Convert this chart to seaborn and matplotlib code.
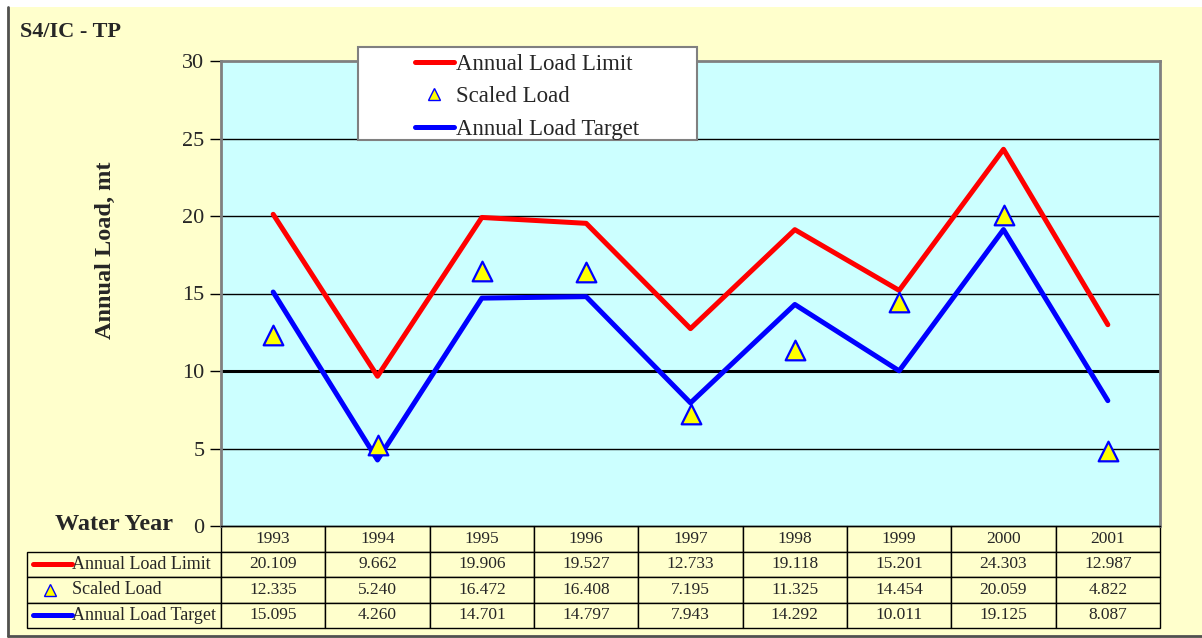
import matplotlib
matplotlib.use("Agg")
import matplotlib.pyplot as plt
import seaborn as sns
import pandas as pd
from matplotlib.patches import Rectangle
from matplotlib.lines import Line2D
from matplotlib.table import Table

# ---- data ----
years = ["1993", "1994", "1995", "1996", "1997", "1998", "1999", "2000", "2001"]
load_limit = [20.109, 9.662, 19.906, 19.527, 12.733, 19.118, 15.201, 24.303, 12.987]
scaled_load = [12.335, 5.240, 16.472, 16.408, 7.195, 11.325, 14.454, 20.059, 4.822]
load_target = [15.095, 4.260, 14.701, 14.797, 7.943, 14.292, 10.011, 19.125, 8.087]
series_names = ["Annual Load Limit", "Scaled Load", "Annual Load Target"]
y_ticks = [0, 5, 10, 15, 20, 25, 30]
title = "S4/IC - TP"
y_label = "Annual Load, mt"
x_label = "Water Year"

sns.set_theme(style="white")
plt.rcParams['font.family'] = ['Liberation Serif', 'DejaVu Serif']

W, H = 1202, 638
RED, BLUE, YEL = "#FF0000", "#0000FF", "#FFFF00"
BG, PLOT_BG = "#FFFFCC", "#CCFFFF"

def fx(px):
    return px / W

def fy(py):
    return 1 - py / H

fig = plt.figure(figsize=(W / 100, H / 100), dpi=100, facecolor="white")
fig.patches.append(Rectangle((fx(7), 0), 1 - fx(7), fy(7), transform=fig.transFigure,
                             facecolor=BG, edgecolor="none", zorder=-10))
fig.lines.append(Line2D([fx(8), fx(8)], [fy(636), fy(7)], transform=fig.transFigure,
                        color="#505050", lw=2))
fig.lines.append(Line2D([fx(8), 1], [fy(636), fy(636)], transform=fig.transFigure,
                        color="#505050", lw=2))

L, R, T, B = 221, 1160, 61, 526
ax = fig.add_axes([fx(L), fy(B), fx(R) - fx(L), fy(T) - fy(B)])
ax.set_facecolor(PLOT_BG)

df = pd.DataFrame({"x": range(len(years)), "limit": load_limit,
                   "scaled": scaled_load, "target": load_target})

ax.set_axisbelow(True)
for v in y_ticks[1:-1]:
    ax.axhline(v, color="black", lw=2.2 if v == 10 else 1.0, zorder=1)

sns.lineplot(data=df, x="x", y="limit", color=RED, lw=3.6, ax=ax, zorder=3, legend=False)
sns.lineplot(data=df, x="x", y="target", color=BLUE, lw=3.6, ax=ax, zorder=3, legend=False)
sns.scatterplot(data=df, x="x", y="scaled", marker="^", s=200, color=YEL,
                edgecolor=BLUE, linewidth=1.6, ax=ax, zorder=4, legend=False)

ax.set_xlim(-0.5, len(years) - 0.5)
ax.set_ylim(0, 30)
ax.set_xticks([])
ax.set_yticks(y_ticks)
ax.set_yticklabels([str(t) for t in y_ticks], fontsize=16)
ax.tick_params(axis="y", direction="out", length=8, width=1, color="black", pad=4, left=True)
ax.set_xlabel("")
ax.set_ylabel("")
for s in ["left", "top", "right"]:
    ax.spines[s].set_color("#808080")
    ax.spines[s].set_linewidth(2)
ax.spines["bottom"].set_color("black")
ax.spines["bottom"].set_linewidth(1)

# ---- table ----
axw = R - L
axh = B - T
row_h = 25.5
label_w = L - 27
col_w = axw / len(years)
tbl = Table(ax, bbox=[(27 - L) / axw, -4 * row_h / axh, (R - 27) / axw, 4 * row_h / axh])
c = tbl.add_cell(0, 0, width=label_w, height=row_h, text="", facecolor="none")
c.visible_edges = ""
for j, yr in enumerate(years):
    c = tbl.add_cell(0, j + 1, width=col_w, height=row_h, text=yr, loc="center", facecolor=BG)
    c.get_text().set_fontsize(12.5)
rows = [load_limit, scaled_load, load_target]
for i, vals in enumerate(rows):
    c = tbl.add_cell(i + 1, 0, width=label_w, height=row_h, text="", facecolor=BG)
    for j, v in enumerate(vals):
        c = tbl.add_cell(i + 1, j + 1, width=col_w, height=row_h, text=f"{v:.3f}",
                         loc="center", facecolor=BG)
        c.get_text().set_fontsize(12.5)
for cell in tbl.get_celld().values():
    cell.set_edgecolor("black")
    cell.set_linewidth(1)
tbl.auto_set_font_size(False)
ax.add_table(tbl)

# row labels with legend keys
row_centers = [B + row_h * 1.5, B + row_h * 2.5, B + row_h * 3.5]
for i, name in enumerate(series_names):
    yc = fy(row_centers[i])
    if i == 1:
        fig.lines.append(Line2D([fx(50)], [yc], transform=fig.transFigure, marker="^",
                                markersize=8, markerfacecolor=YEL, markeredgecolor=BLUE,
                                markeredgewidth=1, lw=0))
    else:
        fig.lines.append(Line2D([fx(33), fx(72)], [yc, yc], transform=fig.transFigure,
                                color=RED if i == 0 else BLUE, lw=3.6))
    fig.text(fx(72), yc, name, fontsize=13, ha="left", va="center")

# ---- texts ----
fig.text(fx(20), fy(32), title, fontsize=16, fontweight="bold", ha="left", va="center")
fig.text(fx(55), fy(525), x_label, fontsize=17.5, fontweight="bold", ha="left", va="center")
fig.text(fx(105), fy(250), y_label, fontsize=17.5, fontweight="bold", rotation=90,
         ha="center", va="center")

# ---- legend ----
fig.patches.append(Rectangle((fx(358), fy(140)), fx(697) - fx(358), fy(47) - fy(140),
                             transform=fig.transFigure, facecolor="white",
                             edgecolor="#808080", lw=1.5, zorder=5))
handles = [Line2D([], [], color=RED, lw=3.6),
           Line2D([], [], lw=0, marker="^", markersize=9, markerfacecolor=YEL,
                  markeredgecolor=BLUE, markeredgewidth=1),
           Line2D([], [], color=BLUE, lw=3.6)]
leg = fig.legend(handles, series_names, loc="upper left", bbox_to_anchor=(fx(394), fy(33)),
                 bbox_transform=fig.transFigure, frameon=False, fontsize=16.5,
                 handlelength=1.7, handletextpad=0.1, labelspacing=0.5)
leg.set_zorder(6)

fig.savefig("out.png", dpi=100, facecolor=fig.get_facecolor())
